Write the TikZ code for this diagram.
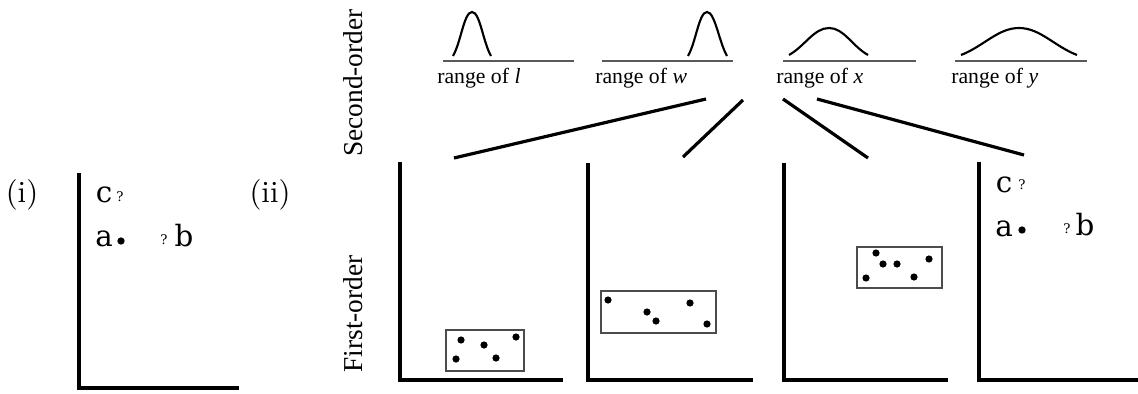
\documentclass[tikz,border=0pt]{standalone}
\usepackage{fontspec}
\newfontfamily\tms{Liberation Serif}
\newfontfamily\dvs{DejaVu Serif}
\newfontfamily\lmten{lmroman10-regular}[Extension=.otf]
\begin{document}
\begin{tikzpicture}[x=0.75pt,y=-0.75pt,
  axis/.style={line width=2.4pt,line join=miter},
  base/.style={line width=1.7pt,draw=black!65},
  bell/.style={line width=1.6pt},
  conn/.style={line width=2.4pt},
  clus/.style={line width=1.6pt,draw=black!70},
  dotm/.style={circle,fill=black,inner sep=0pt,minimum size=5.4pt},
  rng/.style={font=\tms\fontsize{16.3}{18}\selectfont,anchor=base west,inner sep=0pt},
  lbl/.style={font=\tms\fontsize{20.5}{22}\selectfont,rotate=90,inner sep=0pt},
  let/.style={font=\dvs\fontsize{22}{24}\selectfont,inner sep=0pt},
  qm/.style={font=\dvs\fontsize{10}{11}\selectfont,inner sep=0pt},
  num/.style={font=\lmten\fontsize{23}{25}\selectfont,inner sep=0pt}]
\useasboundingbox (0,0) rectangle (1138,393);

% panel labels
\node[num] (pi) at (22,195) {(i)};
\node[num] (pii) at (270,195) {(ii)};
\node[lbl] (so) at (353,83) {Second-order};
\node[lbl] (fo) at (353,314) {First-order};

% panel (i)
\coordinate (i1t) at (79,173); \coordinate (i1c) at (79,388); \coordinate (i1r) at (239,388);
\draw[axis] (i1t) -- (i1c) -- (i1r);
\node[let] (ci) at (104,195) {c};
\node[qm] (cqi) at (120,197) {?};
\node[let] (ai) at (104,239) {a};
\node[dotm,minimum size=5.5pt] (adi) at (121,241) {};
\node[qm] (bqi) at (164,240) {?};
\node[let] (bi) at (184,236) {b};

% second-order distributions
\coordinate (bl1) at (443,61); \coordinate (bl2) at (574,61);
\draw[base] (bl1) -- (bl2);
\draw[bell] (453,56) .. controls (461,42) and (464,12) .. (472,12) .. controls (480,12) and (483,42) .. (491,56);
\node[rng] (rl) at (437,83) {range of \textit{l}};

\coordinate (bw1) at (602,61); \coordinate (bw2) at (733,61);
\draw[base] (bw1) -- (bw2);
\draw[bell] (688,56) .. controls (696,42) and (699,12) .. (707,12) .. controls (715,12) and (719,42) .. (727,56);
\node[rng] (rw) at (595,83) {range of \textit{w}};

\coordinate (bx1) at (783,61); \coordinate (bx2) at (916,61);
\draw[base] (bx1) -- (bx2);
\draw[bell] (789,55) .. controls (805,46) and (814,28) .. (829,28) .. controls (844,28) and (852,46) .. (868,55);
\node[rng] (rx) at (776,83) {range of \textit{x}};

\coordinate (by1) at (955,61); \coordinate (by2) at (1087,61);
\draw[base] (by1) -- (by2);
\draw[bell] (961,55) .. controls (984,46) and (998,28) .. (1019,28) .. controls (1040,28) and (1054,46) .. (1077,55);
\node[rng] (ry) at (951,83) {range of \textit{y}};

% connectors
\coordinate (c1a) at (706,99); \coordinate (c1b) at (454,158);
\coordinate (c2a) at (743,100); \coordinate (c2b) at (683,157);
\coordinate (c3a) at (783,99); \coordinate (c3b) at (868,158);
\coordinate (c4a) at (817,99); \coordinate (c4b) at (1024,155);
\draw[conn] (c1a) -- (c1b);
\draw[conn] (c2a) -- (c2b);
\draw[conn] (c3a) -- (c3b);
\draw[conn] (c4a) -- (c4b);

% first-order panel 1
\coordinate (p1t) at (400,162); \coordinate (p1c) at (400,380); \coordinate (p1r) at (563,380);
\draw[axis] (p1t) -- (p1c) -- (p1r);
\draw[clus] (446,330) rectangle (524,371);
\foreach \p in {(461,340),(484,345),(516,337),(456,359),(496,358)} \node[dotm] at \p {};

% panel 2
\coordinate (p2t) at (588,163); \coordinate (p2c) at (588,380); \coordinate (p2r) at (753,380);
\draw[axis] (p2t) -- (p2c) -- (p2r);
\draw[clus] (601,291) rectangle (716,333);
\foreach \p in {(608,300),(647,312),(656,321),(690,303),(707,324)} \node[dotm] at \p {};

% panel 3
\coordinate (p3t) at (784,163); \coordinate (p3c) at (784,380); \coordinate (p3r) at (948,380);
\draw[axis] (p3t) -- (p3c) -- (p3r);
\draw[clus] (857,247) rectangle (942,288);
\foreach \p in {(876,253),(883,264),(897,264),(929,259),(866,278),(914,277)} \node[dotm] at \p {};

% panel 4
\coordinate (p4t) at (979,162); \coordinate (p4c) at (979,380); \coordinate (p4r) at (1138,380);
\draw[axis] (p4t) -- (p4c) -- (p4r);
\node[let] (c4) at (1004,185) {c};
\node[qm] (cq4) at (1022,185) {?};
\node[let] (a4) at (1004,229) {a};
\node[dotm,minimum size=5.5pt] (ad4) at (1022,230) {};
\node[qm] (bq4) at (1067,229) {?};
\node[let] (b4) at (1085,225) {b};
\end{tikzpicture}
\end{document}
